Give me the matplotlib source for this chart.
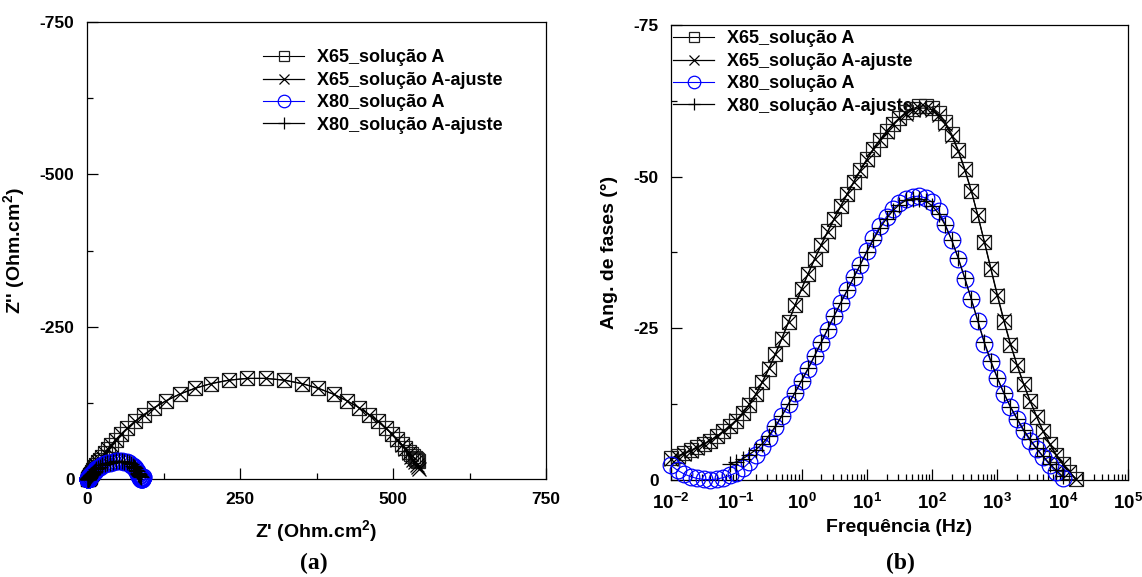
import numpy as np
import matplotlib
matplotlib.use("Agg")
import matplotlib.pyplot as plt
from matplotlib.ticker import MultipleLocator, LogLocator, FuncFormatter, NullFormatter

# ---- data ----
# frequencies, 10 points per decade, 0.01 Hz .. 15.8 kHz
freq_hz = [
    1.00e-2, 1.26e-2, 1.58e-2, 2.00e-2, 2.51e-2, 3.16e-2, 3.98e-2, 5.01e-2, 6.31e-2, 7.94e-2,
    1.00e-1, 1.26e-1, 1.58e-1, 2.00e-1, 2.51e-1, 3.16e-1, 3.98e-1, 5.01e-1, 6.31e-1, 7.94e-1,
    1.00e0, 1.26e0, 1.58e0, 2.00e0, 2.51e0, 3.16e0, 3.98e0, 5.01e0, 6.31e0, 7.94e0,
    1.00e1, 1.26e1, 1.58e1, 2.00e1, 2.51e1, 3.16e1, 3.98e1, 5.01e1, 6.31e1, 7.94e1,
    1.00e2, 1.26e2, 1.58e2, 2.00e2, 2.51e2, 3.16e2, 3.98e2, 5.01e2, 6.31e2, 7.94e2,
    1.00e3, 1.26e3, 1.58e3, 2.00e3, 2.51e3, 3.16e3, 3.98e3, 5.01e3, 6.31e3, 7.94e3,
    1.00e4, 1.26e4, 1.58e4,
]
freq_x80 = freq_hz[:61]
freq_x80_fit = freq_hz[9:61]

phase_x65 = [
    -3.6, -4.0, -4.4, -4.9, -5.4, -5.9, -6.5, -7.2, -8.0, -8.9,
    -9.8, -11.0, -12.4, -14.1, -16.1, -18.3, -20.7, -23.3, -26.0, -28.8,
    -31.5, -34.0, -36.4, -38.8, -41.0, -43.1, -45.2, -47.2, -49.2, -51.1,
    -52.9, -54.6, -56.1, -57.5, -58.7, -59.7, -60.6, -61.2, -61.6, -61.7,
    -61.4, -60.5, -59.0, -57.0, -54.4, -51.3, -47.7, -43.6, -39.2, -34.7,
    -30.3, -26.1, -22.3, -18.9, -15.8, -13.0, -10.4, -8.0, -5.9, -4.1,
    -2.6, -1.3, -0.1,
]
phase_x65_fit = [
    -3.4, -3.8, -4.3, -4.8, -5.3, -5.9, -6.5, -7.2, -8.0, -8.9,
    -9.9, -11.1, -12.5, -14.2, -16.2, -18.4, -20.8, -23.4, -26.1, -28.8,
    -31.5, -34.0, -36.4, -38.7, -40.9, -43.0, -45.1, -47.1, -49.1, -51.0,
    -52.8, -54.5, -56.0, -57.4, -58.6, -59.6, -60.4, -61.0, -61.3, -61.3,
    -61.0, -60.1, -58.7, -56.7, -54.2, -51.1, -47.6, -43.6, -39.3, -34.9,
    -30.5, -26.3, -22.5, -19.0, -15.9, -13.1, -10.5, -8.1, -6.0, -4.2,
    -2.7, -1.4, -0.2,
]
phase_x80 = [
    -2.4, -1.6, -1.0, -0.55, -0.25, -0.1, -0.05, -0.15, -0.4, -0.75,
    -1.2, -1.9, -2.9, -4.1, -5.5, -7.0, -8.7, -10.6, -12.6, -14.4,
    -16.3, -18.3, -20.4, -22.6, -24.8, -27.0, -29.2, -31.3, -33.4, -35.5,
    -37.8, -39.9, -41.8, -43.4, -44.7, -45.6, -46.3, -46.7, -46.8, -46.5,
    -45.8, -44.4, -42.2, -39.5, -36.5, -33.2, -29.8, -26.2, -22.5, -19.4,
    -16.8, -14.2, -12.0, -10.0, -8.1, -6.5, -5.1, -3.8, -2.5, -1.3,
    -0.4,
]
phase_x80_fit = [
    -2.6, -3.0, -3.5, -4.2, -5.0, -6.0, -7.3, -8.9, -10.6, -12.5,
    -14.4, -16.4, -18.4, -20.5, -22.7, -24.9, -27.1, -29.2, -31.3, -33.4,
    -35.5, -37.6, -39.6, -41.5, -43.1, -44.4, -45.4, -46.1, -46.4, -46.4,
    -46.0, -45.2, -43.9, -42.0, -39.5, -36.6, -33.3, -29.8, -26.2, -22.7,
    -19.6, -16.8, -14.3, -12.1, -10.1, -8.3, -6.7, -5.2, -3.9, -2.7,
    -1.6, -0.6,
]

# Nyquist: Z' and Z'' (Ohm.cm2), same frequency order as above
zre_x65 = [
    541.0, 539.5, 537.5, 535.5, 533.0, 529.6, 525.4, 520.2, 514.2, 506.9,
    498.2, 487.9, 475.6, 461.2, 444.3, 424.8, 402.8, 378.1, 351.1, 322.3,
    292.2, 261.8, 231.7, 202.9, 175.9, 151.2, 129.2, 109.7, 92.9, 78.4,
    66.1, 55.8, 47.1, 39.8, 33.7, 28.7, 24.4, 20.9, 17.9, 15.4,
    13.3, 11.6, 10.2, 8.9, 7.9, 7.0, 6.3, 5.6, 5.1, 4.6,
    4.2, 3.9, 3.6, 3.4, 3.2, 3.0, 2.8, 2.7, 2.6, 2.5,
    2.4, 2.4, 2.3,
]
zim_x65 = [
    -30.0, -31.0, -32.5, -34.5, -37.0, -40.5, -45.0, -50.5, -57.0, -65.0,
    -73.8, -83.7, -94.4, -105.6, -117.1, -128.4, -139.2, -148.8, -156.6, -162.2,
    -165.1, -165.1, -162.2, -156.6, -148.7, -139.2, -128.4, -117.1, -105.6, -94.4,
    -83.7, -73.8, -64.6, -56.3, -48.9, -42.4, -36.6, -31.5, -27.1, -23.3,
    -19.9, -17.0, -14.5, -12.3, -10.5, -8.9, -7.6, -6.5, -5.5, -4.7,
    -4.0, -3.4, -2.9, -2.45, -2.1, -1.8, -1.5, -1.3, -1.1, -0.94,
    -0.8, -0.68, -0.58,
]
zre_x65_fit = [
    542.4, 540.7, 538.6, 536.1, 533.1, 529.6, 525.4, 520.2, 514.2, 506.9,
    498.2, 487.9, 475.6, 461.2, 444.3, 424.8, 402.8, 378.1, 351.1, 322.3,
    292.2, 261.8, 231.7, 202.9, 175.9, 151.2, 129.2, 109.7, 92.9, 78.4,
    66.1, 55.8, 47.1, 39.8, 33.7, 28.7, 24.4, 20.9, 17.9, 15.4,
    13.3, 11.6, 10.2, 8.9, 7.9, 7.0, 6.3, 5.6, 5.1, 4.6,
    4.2, 3.9, 3.6, 3.4, 3.2, 3.0, 2.8, 2.7, 2.6, 2.5,
    2.4, 2.4, 2.3,
]
zim_x65_fit = [
    -17.1, -20.0, -23.3, -27.1, -31.5, -36.6, -42.4, -48.9, -56.3, -64.6,
    -73.8, -83.7, -94.4, -105.6, -117.1, -128.4, -139.2, -148.8, -156.6, -162.2,
    -165.1, -165.1, -162.2, -156.6, -148.7, -139.2, -128.4, -117.1, -105.6, -94.4,
    -83.7, -73.8, -64.6, -56.3, -48.9, -42.4, -36.6, -31.5, -27.1, -23.3,
    -19.9, -17.0, -14.5, -12.3, -10.5, -8.9, -7.6, -6.5, -5.5, -4.7,
    -4.0, -3.4, -2.9, -2.45, -2.1, -1.8, -1.5, -1.3, -1.1, -0.94,
    -0.8, -0.68, -0.58,
]
zre_x80 = [
    91.5, 91.0, 90.6, 90.2, 89.9, 89.6, 89.3, 89.0, 88.7, 88.4,
    86.4, 86.0, 85.4, 84.7, 83.9, 83.0, 81.8, 80.4, 78.7, 76.8,
    74.5, 71.8, 68.7, 65.1, 61.2, 56.9, 52.2, 47.4, 42.6, 37.8,
    33.1, 28.8, 24.9, 21.3, 18.2, 15.5, 13.2, 11.3, 9.6, 8.2,
    7.05, 6.1, 5.3, 4.6, 4.0, 3.5, 3.1, 2.8, 2.5, 2.3,
    2.1, 1.9, 1.8, 1.65, 1.55, 1.45, 1.4, 1.3, 1.25, 1.2,
    1.2,
]
zim_x80 = [
    -3.8, -2.5, -1.6, -0.9, -0.4, -0.15, -0.1, -0.25, -0.6, -1.2,
    -1.8, -2.9, -4.3, -6.1, -8.1, -10.2, -12.5, -15.0, -17.6, -19.7,
    -21.8, -23.7, -25.6, -27.1, -28.3, -29.0, -29.2, -28.8, -28.1, -27.0,
    -25.7, -24.1, -22.3, -20.1, -18.0, -15.8, -13.8, -12.0, -10.2, -8.6,
    -7.2, -6.0, -4.8, -3.8, -3.0, -2.3, -1.8, -1.4, -1.0, -0.8,
    -0.63, -0.48, -0.38, -0.29, -0.22, -0.17, -0.13, -0.09, -0.05, -0.03,
    -0.01,
]
zre_x80_fit = [
    88.0, 86.4, 86.0, 85.4, 84.7, 83.9, 83.0, 81.8, 80.4, 78.7,
    76.8, 74.5, 71.8, 68.7, 65.1, 61.2, 56.9, 52.2, 47.4, 42.6,
    37.8, 33.1, 28.8, 24.9, 21.3, 18.2, 15.5, 13.2, 11.3, 9.6,
    8.2, 7.05, 6.1, 5.3, 4.6, 4.0, 3.5, 3.1, 2.8, 2.5,
    2.3, 2.1, 1.9, 1.8, 1.65, 1.55, 1.45, 1.4, 1.3, 1.25,
    1.2, 1.2,
]
zim_x80_fit = [
    -4.0, -4.5, -5.3, -6.3, -7.4, -8.8, -10.6, -12.8, -15.0, -17.5,
    -19.7, -21.8, -23.8, -25.7, -27.1, -28.3, -29.0, -29.1, -28.8, -28.0,
    -27.0, -25.6, -24.0, -22.2, -20.1, -17.9, -15.8, -13.7, -11.9, -10.2,
    -8.6, -7.2, -6.0, -4.9, -3.9, -3.1, -2.4, -1.8, -1.4, -1.0,
    -0.82, -0.64, -0.5, -0.39, -0.3, -0.23, -0.17, -0.13, -0.09, -0.06,
    -0.03, -0.01,
]

labels = ["X65_solução A", "X65_solução A-ajuste", "X80_solução A", "X80_solução A-ajuste"]

plt.rcParams["font.family"] = ["Liberation Sans", "DejaVu Sans"]
plt.rcParams["font.weight"] = "bold"
plt.rcParams["axes.unicode_minus"] = False
plt.rcParams["mathtext.fontset"] = "custom"
plt.rcParams["mathtext.rm"] = "Liberation Sans:bold"
plt.rcParams["mathtext.bf"] = "Liberation Sans:bold"
plt.rcParams["mathtext.it"] = "Liberation Sans:bold:italic"


def draw_series(ax, xs):
    (x65, y65), (x65f, y65f), (x80, y80), (x80f, y80f) = xs
    ax.plot(x65, y65, "-", color="black", lw=0.8, marker="s", ms=10, mfc="none",
            mec="#202020", mew=0.9, clip_on=False, label=labels[0], zorder=3)
    ax.plot(x65f, y65f, "-", color="black", lw=0.9, marker="x", ms=10, mew=0.9,
            clip_on=False, label=labels[1], zorder=4)
    ax.plot(x80, y80, "-", color="#0000ff", lw=0.8, marker="o", ms=12, mfc="none",
            mec="#0000ff", mew=0.9, clip_on=False, label=labels[2], zorder=5)
    ax.plot(x80f, y80f, "-", color="black", lw=0.9, marker="+", ms=11, mew=0.9,
            clip_on=False, label=labels[3], zorder=6)


def style_axes(ax):
    for s in ax.spines.values():
        s.set_linewidth(0.9)
    ax.tick_params(which="both", direction="in", top=False, right=False,
                   labelsize=12.5, pad=9, width=0.9)
    ax.tick_params(which="major", length=8)
    ax.tick_params(which="minor", length=4)


def add_legend(ax, anchor):
    leg = ax.legend(loc="upper left", bbox_to_anchor=anchor, frameon=False,
                    borderpad=0, borderaxespad=0, handlelength=2.3, handletextpad=0.7,
                    labelspacing=0.3, markerscale=0.75,
                    prop={"family": "Liberation Sans", "weight": "bold", "size": 13})
    leg.set_zorder(1)
    return leg


fig = plt.figure(figsize=(11.42, 5.77), dpi=100)
W, H = 1142.0, 577.0

# (a) Nyquist
ax1 = fig.add_axes([87 / W, 98 / H, 459 / W, 457 / H])
draw_series(ax1, [(zre_x65, zim_x65), (zre_x65_fit, zim_x65_fit),
                  (zre_x80, zim_x80), (zre_x80_fit, zim_x80_fit)])
ax1.set_xlim(0, 750)
ax1.set_ylim(0, -750)
ax1.xaxis.set_major_locator(MultipleLocator(250))
ax1.xaxis.set_minor_locator(MultipleLocator(125))
ax1.yaxis.set_major_locator(MultipleLocator(250))
ax1.yaxis.set_minor_locator(MultipleLocator(125))
style_axes(ax1)
ax1.set_xlabel("Z' (Ohm.cm$^2$)", fontsize=14, fontweight="bold")
ax1.set_ylabel("Z'' (Ohm.cm$^2$)", fontsize=14, fontweight="bold")
ax1.xaxis.set_label_coords(0.5, -0.085)
ax1.yaxis.set_label_coords(-0.131, 0.5)
add_legend(ax1, (0.383, 0.94))

# (b) Bode phase
ax2 = fig.add_axes([671 / W, 97 / H, 457 / W, 455 / H])
draw_series(ax2, [(freq_hz, phase_x65), (freq_hz, phase_x65_fit),
                  (freq_x80, phase_x80), (freq_x80_fit, phase_x80_fit)])
ax2.set_xscale("log")
ax2.set_xlim(1e-2, 1e5)
ax2.set_ylim(0, -75)
ax2.xaxis.set_major_locator(LogLocator(base=10, numticks=20))
ax2.xaxis.set_minor_locator(LogLocator(base=10, subs=np.arange(2, 10), numticks=20))
ax2.xaxis.set_minor_formatter(NullFormatter())
ax2.xaxis.set_major_formatter(FuncFormatter(lambda v, p: r"$10^{%d}$" % round(np.log10(v))))
ax2.yaxis.set_major_locator(MultipleLocator(25))
ax2.yaxis.set_minor_locator(MultipleLocator(12.5))
style_axes(ax2)
ax2.tick_params(axis="x", which="major", labelsize=13.5)
ax2.set_xlabel("Frequência (Hz)", fontsize=14, fontweight="bold")
ax2.set_ylabel("Ang. de fases (°)", fontsize=14, fontweight="bold")
ax2.xaxis.set_label_coords(0.5, -0.085)
ax2.yaxis.set_label_coords(-0.116, 0.5)
add_legend(ax2, (0.004, 0.988))

fig.text(314 / W, 1 - 563 / H, "(a)", ha="center", va="center", fontsize=17,
         fontweight="bold", family=["Liberation Serif", "DejaVu Serif"])
fig.text(900 / W, 1 - 563 / H, "(b)", ha="center", va="center", fontsize=17,
         fontweight="bold", family=["Liberation Serif", "DejaVu Serif"])

fig.savefig("out.png", dpi=100)
